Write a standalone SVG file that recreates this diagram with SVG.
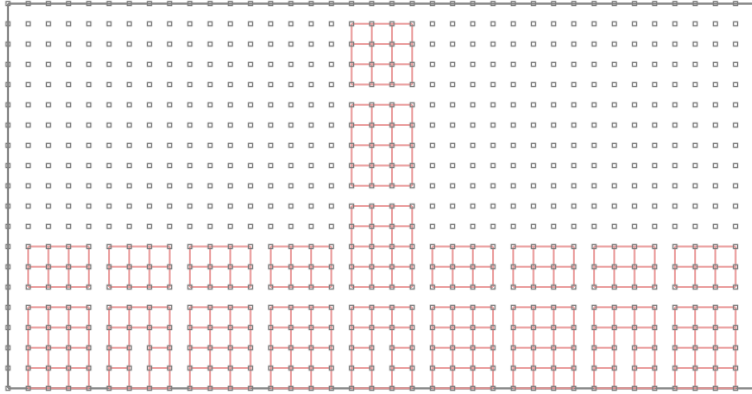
<svg xmlns="http://www.w3.org/2000/svg" width="752" height="394" viewBox="0 0 752 394">
<defs>
<style>
.border{fill:none;stroke:#8c8c8c;stroke-width:2.2;vector-effect:non-scaling-stroke}
.blk path{fill:none;stroke:#e99595;stroke-width:2;vector-effect:non-scaling-stroke;stroke-opacity:0.85}
.nd{fill:none;stroke:#808080;stroke-width:1.3}
</style>
<pattern id="nodes" patternUnits="userSpaceOnUse" x="-2.105" y="-6.525" width="20.21" height="20.25">
<rect class="nd" x="8.1" y="8.1" width="4" height="4"/>
</pattern>
</defs>
<rect width="752" height="394" fill="#ffffff"/>
<g transform="translate(8 3.6) scale(20.21 20.25)">
<g id="connectors">
<path id="frame" class="border" d="M0 0V19M0 0H37M0 19H37"/>
<g class="blk">
<g id="band-1"><path d="M1 12h3M1 13h3M1 14h3M1 12v2M2 12v2M3 12v2M4 12v2"/></g>
<g id="band-2"><path d="M5 12h3M5 13h3M5 14h3M5 12v2M6 12v2M7 12v2M8 12v2"/></g>
<g id="band-3"><path d="M9 12h3M9 13h3M9 14h3M9 12v2M10 12v2M11 12v2M12 12v2"/></g>
<g id="band-4"><path d="M13 12h3M13 13h3M13 14h3M13 12v2M14 12v2M15 12v2M16 12v2"/></g>
<g id="band-6"><path d="M21 12h3M21 13h3M21 14h3M21 12v2M22 12v2M23 12v2M24 12v2"/></g>
<g id="band-7"><path d="M25 12h3M25 13h3M25 14h3M25 12v2M26 12v2M27 12v2M28 12v2"/></g>
<g id="band-8"><path d="M29 12h3M29 13h3M29 14h3M29 12v2M30 12v2M31 12v2M32 12v2"/></g>
<g id="band-9"><path d="M33 12h3M33 13h3M33 14h3M33 12v2M34 12v2M35 12v2M36 12v2"/></g>
<g id="tower-a"><path d="M17 1h3M17 2h3M17 3h3M17 4h3M17 1v3M18 1v3M19 1v3M20 1v3"/></g>
<g id="tower-b"><path d="M17 5h3M17 6h3M17 7h3M17 8h3M17 9h3M17 5v4M18 5v4M19 5v4M20 5v4"/></g>
<g id="tower-c"><path d="M17 10h3M17 11h3M17 12h3M17 13h3M17 14h3M17 10v4M18 10v4M19 10v4M20 10v4"/></g>
<g id="base-1"><path d="M1 15h3M1 16h3M1 17h3M1 18h3M1 19h3M1 15v4M2 15v4M3 15v4M4 15v4"/></g>
<g id="base-2"><path d="M5 15h3M5 16h3M5 17h1M7 17h1M5 18h1M7 18h1M5 19h3M5 15v4M6 15v4M7 15v4M8 15v4"/></g>
<g id="base-3"><path d="M9 15h3M9 16h3M9 17h3M9 18h3M9 19h3M9 15v4M10 15v4M11 15v4M12 15v4"/></g>
<g id="base-4"><path d="M13 15h3M13 16h3M13 17h3M13 18h3M13 19h3M13 15v4M14 15v4M15 15v4M16 15v4"/></g>
<g id="base-5"><path d="M17 15h3M17 16h3M17 17h1M19 17h1M17 18h1M19 18h1M17 19h3M17 15v4M18 15v4M19 15v4M20 15v4"/></g>
<g id="base-6"><path d="M21 15h3M21 16h3M21 17h3M21 18h3M21 19h3M21 15v4M22 15v4M23 15v4M24 15v4"/></g>
<g id="base-7"><path d="M25 15h3M25 16h3M25 17h3M25 18h3M25 19h3M25 15v4M26 15v4M27 15v4M28 15v4"/></g>
<g id="base-8"><path d="M29 15h3M29 16h3M29 17h1M31 17h1M29 18h1M31 18h1M29 19h3M29 15v4M30 15v4M31 15v4M32 15v4"/></g>
<g id="base-9"><path d="M33 15h3M33 16h3M33 17h3M33 18h3M33 19h3M33 15v4M34 15v4M35 15v4M36 15v4"/></g>
</g>
</g>
</g>
<g id="grid-nodes">
<rect x="0" y="0" width="752" height="394" fill="url(#nodes)"/>
</g>
</svg>
